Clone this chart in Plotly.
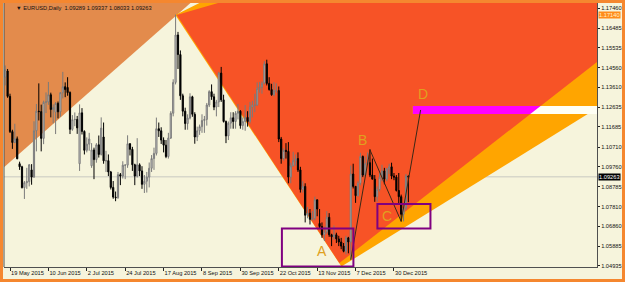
import plotly.graph_objects as go
import pandas as pd

# ---------------- data (EURUSD daily) ----------------
all_days = pd.bdate_range("2015-05-15", "2016-01-08")
holidays = [pd.Timestamp("2015-12-25"), pd.Timestamp("2016-01-01")]
dates = [d for d in all_days if d not in holidays]

opens = [
    1.1410, 1.1440, 1.1317, 1.1146, 1.1093, 1.1111, 1.0990, 1.0975, 1.0874, 1.0898, 1.0903,
    1.0960, 1.0925, 1.1150, 1.1245, 1.1243, 1.1113, 1.1288, 1.1290, 1.1325, 1.1253, 1.1240,
    1.1283, 1.1242, 1.1335, 1.1364, 1.1360, 1.1336, 1.1157, 1.1204, 1.1205, 1.0990, 1.1237,
    1.1147, 1.1055, 1.1085, 1.0980, 1.1057, 1.1010, 1.1082, 1.1035, 1.1120, 1.1004, 1.1005,
    1.0950, 1.0875, 1.0828, 1.0825, 1.0937, 1.0930, 1.0983, 1.0983, 1.1087, 1.1060, 1.0985, 1.0930,
    1.0985, 1.0955, 1.0890, 1.0905, 1.0925, 1.0968, 1.1015, 1.1040, 1.1160, 1.1150, 1.1105,
    1.1080, 1.1025, 1.1115, 1.1235, 1.1385, 1.1615, 1.1520, 1.1320, 1.1245, 1.1185,
    1.1212, 1.1315, 1.1230, 1.1120, 1.1150, 1.1170, 1.1200, 1.1205, 1.1275, 1.1340, 1.1315,
    1.1265, 1.1290, 1.1430, 1.1300, 1.1195, 1.1125, 1.1187, 1.1213, 1.1195, 1.1235, 1.1245,
    1.1175, 1.1195, 1.1215, 1.1195, 1.1265, 1.1275, 1.1275, 1.1355, 1.1362, 1.1382, 1.1475,
    1.1380, 1.1350, 1.1325, 1.1345, 1.1345, 1.1110, 1.1015, 1.1055, 1.1050, 1.0925, 1.0980,
    1.1005, 1.1015, 1.0960, 1.0865, 1.0880, 1.0740, 1.0750, 1.0720, 1.0725, 1.0815, 1.0700,
    1.0685, 1.0645, 1.0660, 1.0730, 1.0645, 1.0635, 1.0645, 1.0625, 1.0610, 1.0590,
    1.0565, 1.0630, 1.0610, 1.0940, 1.0880, 1.0835, 1.0895, 1.1025, 1.0935, 1.0990, 1.0995,
    1.0935, 1.0915, 1.0830, 1.0865, 1.0925, 1.0955, 1.0915, 1.0965, 1.0975, 1.0930, 1.0925,
    1.0860, 1.0830, 1.0745, 1.0775, 1.09289,
]
highs = [
    1.1467, 1.1450, 1.1330, 1.1155, 1.1184, 1.1122, 1.1000, 1.0980, 1.0906, 1.0970, 1.0988,
    1.0988, 1.1196, 1.1280, 1.1380, 1.1277, 1.1296, 1.1336, 1.1387, 1.1335, 1.1278, 1.1289,
    1.1292, 1.1337, 1.1436, 1.1385, 1.1410, 1.1341, 1.1226, 1.1239, 1.1222, 1.1278, 1.1260,
    1.1152, 1.1118, 1.1140, 1.1090, 1.1068, 1.1090, 1.1127, 1.1215, 1.1190, 1.1053, 1.1035,
    1.0955, 1.0906, 1.0855, 1.0950, 1.0945, 1.1002, 1.0987, 1.1128, 1.1090, 1.1072, 1.0990, 1.1114,
    1.0992, 1.0978, 1.0935, 1.0950, 1.0996, 1.1032, 1.1068, 1.1214, 1.1190, 1.1167, 1.1118,
    1.1105, 1.1140, 1.1245, 1.1400, 1.1714, 1.1630, 1.1540, 1.1330, 1.1262, 1.1230,
    1.1332, 1.1320, 1.1240, 1.1170, 1.1180, 1.1230, 1.1222, 1.1285, 1.1347, 1.1375, 1.1330,
    1.1300, 1.1436, 1.1460, 1.1325, 1.1200, 1.1195, 1.1240, 1.1240, 1.1245, 1.1280, 1.1250,
    1.1215, 1.1275, 1.1245, 1.1290, 1.1295, 1.1330, 1.1385, 1.1387, 1.1390, 1.1488, 1.1495,
    1.1410, 1.1378, 1.1386, 1.1380, 1.1365, 1.1120, 1.1065, 1.1090, 1.1095, 1.0995, 1.1048,
    1.1035, 1.1045, 1.0975, 1.0905, 1.0895, 1.0780, 1.0770, 1.0760, 1.0830, 1.0815, 1.0770,
    1.0705, 1.0685, 1.0760, 1.0750, 1.0650, 1.0690, 1.0655, 1.0640, 1.0630, 1.0605,
    1.0640, 1.0635, 1.0981, 1.0990, 1.0882, 1.0905, 1.1043, 1.1030, 1.1025, 1.1045, 1.1060,
    1.1015, 1.0935, 1.0880, 1.0945, 1.0985, 1.0970, 1.0970, 1.0990, 1.0995, 1.0945, 1.0935,
    1.0945, 1.0840, 1.0800, 1.0940, 1.09337,
]
lows = [
    1.1370, 1.1310, 1.1139, 1.1062, 1.1090, 1.1012, 1.0960, 1.0870, 1.0819, 1.0868, 1.0880,
    1.0888, 1.0922, 1.1050, 1.1200, 1.1050, 1.1085, 1.1236, 1.1276, 1.1215, 1.1186, 1.1134,
    1.1210, 1.1218, 1.1307, 1.1313, 1.1320, 1.1134, 1.1150, 1.1172, 1.1135, 1.0955, 1.1132,
    1.1035, 1.1045, 1.1053, 1.0970, 1.0915, 1.0995, 1.1020, 1.1030, 1.0990, 1.0950, 1.0930,
    1.0865, 1.0820, 1.0808, 1.0820, 1.0886, 1.0918, 1.0915, 1.0970, 1.1030, 1.0955, 1.0886, 1.0923,
    1.0930, 1.0868, 1.0848, 1.0850, 1.0875, 1.0950, 1.0960, 1.1030, 1.1120, 1.1086, 1.1045,
    1.1017, 1.1015, 1.1110, 1.1220, 1.1375, 1.1450, 1.1300, 1.1220, 1.1155, 1.1155,
    1.1205, 1.1218, 1.1087, 1.1100, 1.1130, 1.1140, 1.1140, 1.1175, 1.1265, 1.1300, 1.1250,
    1.1220, 1.1265, 1.1290, 1.1190, 1.1090, 1.1105, 1.1160, 1.1160, 1.1160, 1.1205, 1.1160,
    1.1155, 1.1150, 1.1170, 1.1185, 1.1215, 1.1240, 1.1270, 1.1335, 1.1330, 1.1375, 1.1370,
    1.1345, 1.1320, 1.1317, 1.1335, 1.1095, 1.0990, 1.1005, 1.1015, 1.0895, 1.0895, 1.0975,
    1.0980, 1.0950, 1.0850, 1.0850, 1.0705, 1.0725, 1.0695, 1.0715, 1.0715, 1.0735, 1.0675,
    1.0630, 1.0615, 1.0650, 1.0635, 1.0590, 1.0620, 1.0605, 1.0590, 1.0575, 1.0560,
    1.0550, 1.0555, 1.0524, 1.0870, 1.0800, 1.0830, 1.0885, 1.0925, 1.0925, 1.0985, 1.0925,
    1.0915, 1.0805, 1.0805, 1.0855, 1.0905, 1.0890, 1.0905, 1.0940, 1.0915, 1.0910, 1.0855,
    1.0795, 1.0710, 1.0710, 1.0765, 1.08033,
]
closes = [
    1.1447, 1.1317, 1.1146, 1.1093, 1.1111, 1.1014, 1.0975, 1.0874, 1.0898, 1.0903, 1.0985,
    1.0925, 1.1150, 1.1245, 1.1243, 1.1113, 1.1288, 1.1290, 1.1325, 1.1253, 1.1263, 1.1283,
    1.1242, 1.1335, 1.1364, 1.1350, 1.1335, 1.1157, 1.1204, 1.1205, 1.1164, 1.1237, 1.1147,
    1.1055, 1.1085, 1.1110, 1.1057, 1.1010, 1.1082, 1.1035, 1.1163, 1.1004, 1.1005, 1.0950,
    1.0875, 1.0828, 1.0825, 1.0937, 1.0930, 1.0983, 1.0983, 1.1087, 1.1060, 1.0985, 1.0930, 1.0985,
    1.0955, 1.0890, 1.0905, 1.0925, 1.0968, 1.1015, 1.1040, 1.1160, 1.1150, 1.1105, 1.1080,
    1.1025, 1.1115, 1.1235, 1.1385, 1.1615, 1.1520, 1.1320, 1.1245, 1.1185, 1.1212,
    1.1315, 1.1230, 1.1120, 1.1150, 1.1170, 1.1200, 1.1205, 1.1275, 1.1340, 1.1315, 1.1265,
    1.1290, 1.1430, 1.1300, 1.1195, 1.1125, 1.1187, 1.1213, 1.1195, 1.1235, 1.1245, 1.1175,
    1.1195, 1.1215, 1.1195, 1.1265, 1.1275, 1.1275, 1.1355, 1.1362, 1.1380, 1.1475, 1.1380,
    1.1350, 1.1325, 1.1345, 1.1345, 1.1110, 1.1015, 1.1055, 1.1050, 1.0925, 1.0980, 1.1005,
    1.1015, 1.0960, 1.0865, 1.0880, 1.0740, 1.0750, 1.0720, 1.0725, 1.0815, 1.0770, 1.0685,
    1.0645, 1.0660, 1.0730, 1.0645, 1.0635, 1.0645, 1.0625, 1.0610, 1.0590, 1.0565,
    1.0630, 1.0610, 1.0940, 1.0880, 1.0835, 1.0895, 1.1025, 1.0935, 1.0990, 1.0995, 1.0935,
    1.0915, 1.0830, 1.0865, 1.0925, 1.0955, 1.0915, 1.0965, 1.0975, 1.0930, 1.0925, 1.0860,
    1.0830, 1.0745, 1.0775, 1.0930, 1.09263,
]

tick_dates = ["2015-05-19", "2015-06-10", "2015-07-02", "2015-07-24", "2015-08-17",
              "2015-09-08", "2015-09-30", "2015-10-22", "2015-11-13", "2015-12-07",
              "2015-12-30"]
tick_labels = ["19 May 2015", "10 Jun 2015", "2 Jul 2015", "24 Jul 2015", "17 Aug 2015",
               "8 Sep 2015", "30 Sep 2015", "22 Oct 2015", "13 Nov 2015", "7 Dec 2015",
               "30 Dec 2015"]
price_ticks = [1.17460, 1.16485, 1.15535, 1.14560, 1.13610, 1.12635, 1.11685,
               1.10710, 1.09760, 1.08785, 1.07810, 1.06860, 1.05885, 1.04935]

last_price = 1.09263
x_level = 1.17140

# pattern pivots (bar index, price)
pat_names = ["A", "B", "C", "D"]
pat_idx = [144, 152, 165, 173.1]
pat_price = [1.0524, 1.1057, 1.0710, 1.1251]
label_idx = [131.9, 149.0, 159.0, 174.0]
label_price = [1.0568, 1.1105, 1.0736, 1.1328]

# drawing objects (bar index / price)
brown_x = [-5, -5, 83.3, 83.3]
brown_y = [1.19, 1.0927, 1.1833, 1.19]
orange_x = [70.9, 91.7, 260, 260, 140.1]
orange_y = [1.17119, 1.18333, 1.19, 1.13556, 1.04911]
red_x = [71.45, 107.3, 260, 260, 139.25]
red_y = [1.17119, 1.18333, 1.19, 1.16061, 1.05076]
strip_x = [169.9, 260]
strip_y = [1.12314, 1.12702]
magenta_x = [169.9, 223.1, 218.8, 169.9]
magenta_y = [1.12702, 1.12702, 1.12314, 1.12314]
boxA_x = [115.3, 145.1]
boxA_y = [1.0491, 1.06755]
boxC_x = [155.1, 177.2]
boxC_y = [1.06755, 1.07945]

CREAM = "#F6F4DC"
FONT = "Liberation Sans"
SMALL = 5.7

idx = list(range(len(dates)))
date_str = [d.strftime("%Y-%m-%d") for d in dates]
tick_vals = [date_str.index(t) for t in tick_dates]


def path(xs, ys):
    pts = " L ".join(f"{x},{y}" for x, y in zip(xs, ys))
    return f"M {pts} Z"


fig = go.Figure()
fig.add_trace(go.Candlestick(
    x=idx, open=opens, high=highs, low=lows, close=closes,
    increasing=dict(line=dict(color="#7a7a7a", width=1), fillcolor="#dcdcdc"),
    decreasing=dict(line=dict(color="#000000", width=1), fillcolor="#000000"),
    whiskerwidth=0, showlegend=False, hoverinfo="skip",
))

# pattern legs A-B-C-D
fig.add_trace(go.Scatter(
    x=pat_idx, y=pat_price, mode="lines",
    line=dict(color="#3a2816", width=1), showlegend=False, hoverinfo="skip",
))

shapes = [
    dict(type="path", path=path(brown_x, brown_y), xref="x", yref="y",
         fillcolor="#E38B4C", line=dict(width=0), layer="below"),
    dict(type="path", path=path(orange_x, orange_y), xref="x", yref="y",
         fillcolor="#FFA500", line=dict(width=0), layer="below"),
    dict(type="path", path=path(red_x, red_y), xref="x", yref="y",
         fillcolor="#F75326", line=dict(width=0), layer="below"),
    dict(type="rect", x0=strip_x[0], x1=strip_x[1], y0=strip_y[0], y1=strip_y[1],
         xref="x", yref="y", fillcolor="#FFFFF4", line=dict(width=0), layer="below"),
    dict(type="path", path=path(magenta_x, magenta_y), xref="x", yref="y",
         fillcolor="#FF00FF", line=dict(width=0), layer="below"),
    dict(type="line", x0=0, x1=1, xref="paper", y0=x_level, y1=x_level, yref="y",
         line=dict(color="#FF8C1A", width=1), layer="below"),
    dict(type="line", x0=0, x1=1, xref="paper", y0=last_price, y1=last_price, yref="y",
         line=dict(color="#C8C8C0", width=1), layer="below"),
    dict(type="rect", x0=boxA_x[0], x1=boxA_x[1], y0=boxA_y[0], y1=boxA_y[1],
         xref="x", yref="y", line=dict(color="#800080", width=2), layer="above"),
    dict(type="rect", x0=boxC_x[0], x1=boxC_x[1], y0=boxC_y[0], y1=boxC_y[1],
         xref="x", yref="y", line=dict(color="#800080", width=2), layer="above"),
    # left frame line of chart window
    dict(type="line", x0=0, x1=0, xref="paper", y0=0, y1=1, yref="paper",
         line=dict(color="#505050", width=1)),
    # orange outer border
    dict(type="rect", xref="paper", yref="paper",
         x0=(1.5 - 4) / 593, x1=(623.5 - 4) / 593,
         y0=(267 - 280.5) / 264, y1=(267 - 1.5) / 264,
         line=dict(color="#F5872F", width=3)),
]

annotations = []
for n, xi, yi in zip(pat_names, label_idx, label_price):
    annotations.append(dict(x=xi, y=yi, xref="x", yref="y", text=n, showarrow=False,
                            font=dict(family=FONT, size=14, color="#E0A020")))

annotations += [
    dict(x=(14 - 4) / 593, y=(267 - 8) / 264, xref="paper", yref="paper",
         text="▼ EURUSD,Daily  1.09289 1.09337 1.08033 1.09263",
         showarrow=False, xanchor="left", yanchor="middle",
         font=dict(family=FONT, size=SMALL, color="#111111")),
    dict(x=1, y=x_level, xref="paper", yref="y", text=f"{x_level:.5f}",
         showarrow=False, xanchor="left", xshift=1, bgcolor="#FF8C1A",
         font=dict(family=FONT, size=SMALL, color="#FFF2D0"), borderpad=0),
    dict(x=1, y=last_price, xref="paper", yref="y", text=f"{last_price:.5f}",
         showarrow=False, xanchor="left", xshift=1, bgcolor="#000000",
         font=dict(family=FONT, size=SMALL, color="#FFFFFF"), borderpad=0),
]

fig.update_layout(
    width=625, height=282,
    margin=dict(l=4, r=28, t=3, b=15, autoexpand=False),
    paper_bgcolor=CREAM, plot_bgcolor=CREAM,
    shapes=shapes, annotations=annotations,
    showlegend=False,
    xaxis=dict(
        range=[-0.5, 246.6], tickmode="array", tickvals=tick_vals, ticktext=tick_labels,
        ticks="outside", ticklen=3, tickcolor="#222222", ticklabelposition="outside right",
        tickangle=0, automargin=False,
        tickfont=dict(family=FONT, size=SMALL, color="#111111"),
        showline=True, linecolor="#505050", linewidth=1,
        showgrid=False, zeroline=False, rangeslider=dict(visible=False), fixedrange=True,
    ),
    yaxis=dict(
        side="right", range=[1.04886, 1.17703], tickmode="array", tickvals=price_ticks,
        ticktext=[f"{p:.5f}" for p in price_ticks], automargin=False,
        ticks="outside", ticklen=2, tickcolor="#222222",
        tickfont=dict(family=FONT, size=SMALL, color="#111111"),
        showline=True, linecolor="#505050", linewidth=1,
        showgrid=False, zeroline=False, fixedrange=True,
    ),
)

fig.write_html("out.html")
